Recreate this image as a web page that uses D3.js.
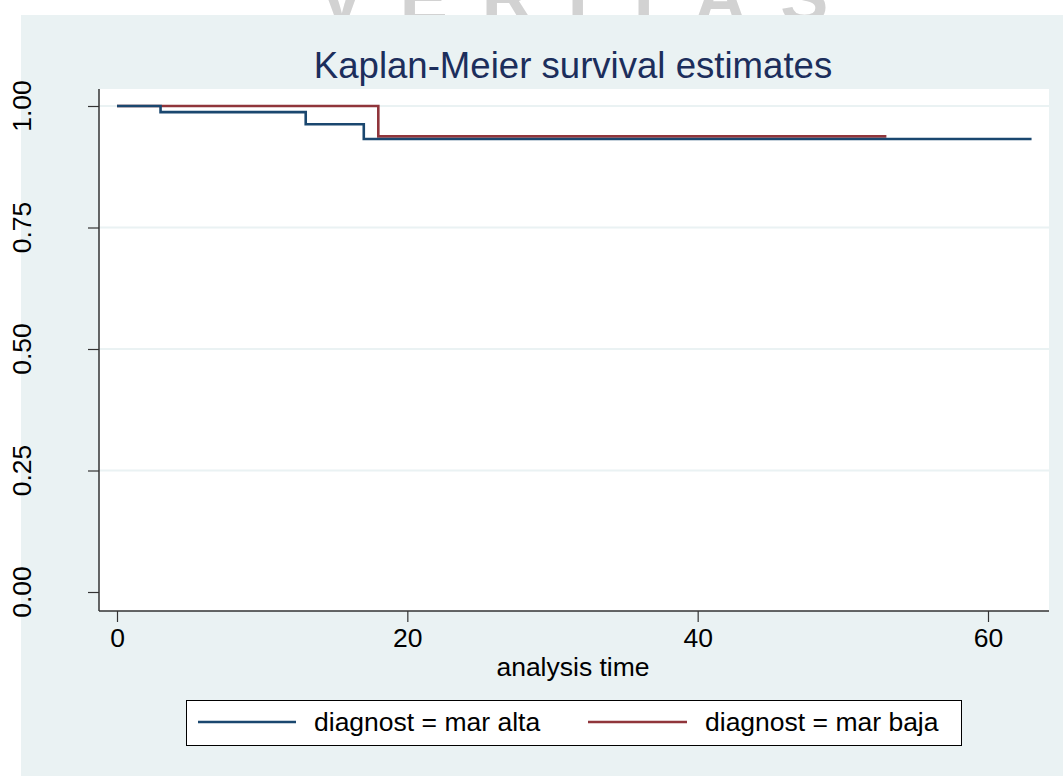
<!DOCTYPE html>
<html>
<head>
<meta charset="utf-8">
<script src="https://cdn.jsdelivr.net/npm/d3@7"></script>
<style>
  html, body { margin: 0; padding: 0; background: #ffffff; }
  svg { display: block; }
  text { font-family: "Liberation Sans", Arial, sans-serif; }
</style>
</head>
<body>
<svg id="chart" width="1063" height="776"></svg>
<script>
// ---- data ----
const titleText = "Kaplan-Meier survival estimates";
const xLabel = "analysis time";
const xTicks = [0, 20, 40, 60];
const yTicks = [0, 0.25, 0.5, 0.75, 1];
const yTickLabels = ["0.00", "0.25", "0.50", "0.75", "1.00"];
const seriesNames = ["diagnost = mar alta", "diagnost = mar baja"];
const altaTimes = [0, 3, 13, 17, 63];
const altaSurv  = [1, 0.9875, 0.9625, 0.932, 0.932];
const bajaTimes = [0, 18, 53];
const bajaSurv  = [1, 0.9375, 0.9375];
const seriesColors = ["#1a476f", "#90353b"];

// ---- layout ----
const svg = d3.select("#chart");
const plot = { left: 99, right: 1049, top: 89, bottom: 611 };
const x = d3.scaleLinear().domain([0, 60]).range([117, 988]);
const y = d3.scaleLinear().domain([0, 1]).range([592, 106]);
const fs = 26.5;

// watermark behind the graph region (only its lower part peeks out above)
svg.append("text")
  .attr("x", 590).attr("y", 22)
  .attr("text-anchor", "middle")
  .attr("font-size", 72)
  .attr("font-weight", "bold")
  .attr("letter-spacing", 34)
  .attr("fill", "#d2d2d2")
  .text("VERITAS");

// graph region background
svg.append("rect")
  .attr("x", 21).attr("y", 15)
  .attr("width", 1063 - 21).attr("height", 776 - 15)
  .attr("fill", "#eaf2f3");

// plot region
svg.append("rect")
  .attr("x", plot.left).attr("y", plot.top)
  .attr("width", plot.right - plot.left).attr("height", plot.bottom - plot.top)
  .attr("fill", "#ffffff");

// gridlines
svg.append("g").selectAll("line")
  .data(yTicks.filter(d => d > 0))
  .join("line")
  .attr("x1", plot.left).attr("x2", plot.right)
  .attr("y1", d => y(d)).attr("y2", d => y(d))
  .attr("stroke", "#eaf2f3").attr("stroke-width", 2);

// title
svg.append("text")
  .attr("x", 573).attr("y", 78)
  .attr("text-anchor", "middle")
  .attr("font-size", 36.6)
  .attr("fill", "#1c2e5c")
  .text(titleText);

// axes
const axisColor = "#333333";
const yAxis = d3.axisLeft(y).tickValues(yTicks).tickSize(11).tickFormat("");
const gy = svg.append("g").attr("transform", `translate(${plot.left},0)`).call(yAxis);
gy.select(".domain").remove();
gy.selectAll("line").attr("stroke", axisColor).attr("stroke-width", 1.2);
svg.append("line")
  .attr("x1", plot.left).attr("x2", plot.left)
  .attr("y1", plot.top).attr("y2", plot.bottom)
  .attr("stroke", axisColor).attr("stroke-width", 1.5);

// rotated y tick labels
svg.append("g").selectAll("text")
  .data(yTicks)
  .join("text")
  .attr("transform", d => `translate(31,${y(d)}) rotate(-90)`)
  .attr("text-anchor", "middle")
  .attr("font-size", fs)
  .attr("fill", "#000")
  .text((d, i) => yTickLabels[i]);

const xAxis = d3.axisBottom(x).tickValues(xTicks).tickSize(11).tickPadding(6).tickFormat(d3.format("d"));
const gx = svg.append("g").attr("transform", `translate(0,${plot.bottom})`).call(xAxis);
gx.select(".domain").remove();
gx.selectAll("line").attr("stroke", axisColor).attr("stroke-width", 1.2);
gx.selectAll("text").attr("font-size", fs).attr("fill", "#000")
  .attr("font-family", "Liberation Sans, Arial, sans-serif");
svg.append("line")
  .attr("x1", plot.left).attr("x2", plot.right)
  .attr("y1", plot.bottom).attr("y2", plot.bottom)
  .attr("stroke", axisColor).attr("stroke-width", 1.5);

// x axis title
svg.append("text")
  .attr("x", 573).attr("y", 676)
  .attr("text-anchor", "middle")
  .attr("font-size", fs)
  .attr("fill", "#000")
  .text(xLabel);

// step curves
const line = d3.line().x(d => x(d[0])).y(d => y(d[1])).curve(d3.curveStepAfter);
const series = [
  { pts: altaTimes.map((t, i) => [t, altaSurv[i]]), color: seriesColors[0] },
  { pts: bajaTimes.map((t, i) => [t, bajaSurv[i]]), color: seriesColors[1] }
];
svg.append("g").selectAll("path")
  .data([series[1], series[0]])
  .join("path")
  .attr("d", d => line(d.pts))
  .attr("fill", "none")
  .attr("stroke", d => d.color)
  .attr("stroke-width", 2.6);

// legend
const lg = svg.append("g");
lg.append("rect")
  .attr("x", 186.5).attr("y", 700.5)
  .attr("width", 775).attr("height", 45)
  .attr("fill", "#ffffff").attr("stroke", "#000").attr("stroke-width", 1);
const legendItems = [
  { x0: 198, x1: 296, tx: 314 },
  { x0: 588, x1: 687, tx: 705 }
];
legendItems.forEach((it, i) => {
  lg.append("line")
    .attr("x1", it.x0).attr("x2", it.x1)
    .attr("y1", 722).attr("y2", 722)
    .attr("stroke", seriesColors[i]).attr("stroke-width", 2.6);
  lg.append("text")
    .attr("x", it.tx).attr("y", 731)
    .attr("font-size", fs)
    .attr("fill", "#000")
    .text(seriesNames[i]);
});
</script>
</body>
</html>
